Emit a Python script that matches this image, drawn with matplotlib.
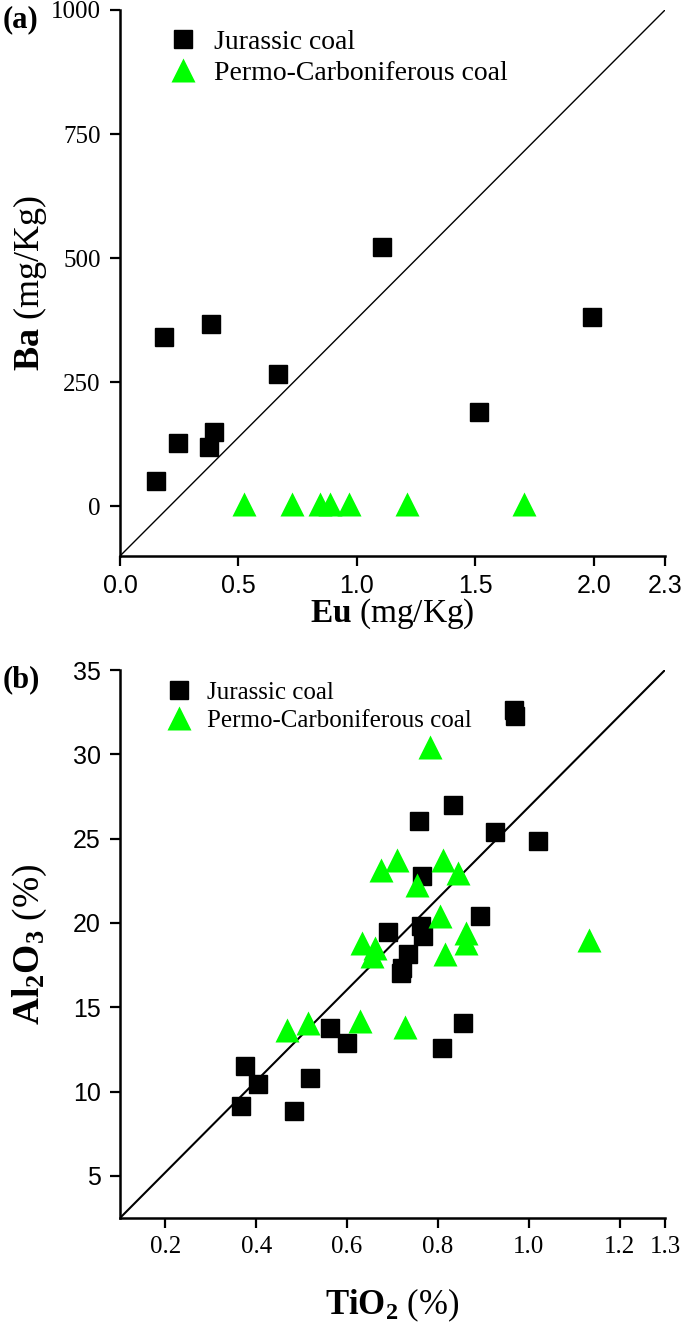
import matplotlib
matplotlib.use("Agg")
import matplotlib.pyplot as plt
import numpy as np

plt.rcParams['mathtext.fontset'] = 'custom'
plt.rcParams['mathtext.rm'] = 'Liberation Serif'
plt.rcParams['mathtext.bf'] = 'Liberation Serif:bold'
plt.rcParams['mathtext.it'] = 'Liberation Serif:italic'
plt.rcParams['font.family'] = ['Liberation Serif', 'DejaVu Sans']

# ---------- Panel (a) data: Eu vs Ba ----------
eu_jur = [0.151, 0.187, 0.243, 0.376, 0.383, 0.396, 0.667, 1.106, 1.516, 1.993]
ba_jur = [52, 342, 127, 119, 367, 149, 267, 523, 191, 382]
eu_perm = [0.522, 0.725, 0.842, 0.887, 0.968, 1.212, 1.705]
ba_perm = [5, 5, 5, 5, 5, 5, 5]
a_xticks = [0.0, 0.5, 1.0, 1.5, 2.0, 2.3]
a_xticklabels = ['0.0', '0.5', '1.0', '1.5', '2.0', '2.3']
a_yticks = [0, 250, 500, 750, 1000]

# ---------- Panel (b) data: TiO2 vs Al2O3 ----------
ti_jur = [0.967, 0.969, 0.833, 0.758, 0.926, 1.020, 0.766, 0.892, 0.691, 0.763,
          0.768, 0.734, 0.722, 0.718, 0.562, 0.599, 0.856, 0.808, 0.376, 0.404,
          0.519, 0.366, 0.483]
al_jur = [32.6, 32.3, 26.97, 26.02, 25.37, 24.84, 22.8, 20.4, 19.45, 19.8,
          19.25, 18.13, 17.34, 17.04, 13.75, 12.9, 14.05, 12.57, 11.52, 10.43,
          10.83, 9.15, 8.85]
ti_perm = [0.782, 0.711, 0.675, 0.811, 0.844, 0.754, 0.804, 0.862, 0.862, 0.632,
           0.661, 0.655, 0.816, 1.132, 0.467, 0.514, 0.629, 0.728]
al_perm = [30.46, 23.75, 23.16, 23.75, 22.96, 22.27, 20.4, 19.41, 18.82, 18.78,
           18.52, 18.03, 18.13, 19.01, 13.66, 14.09, 14.19, 13.85]
b_xticks = [0.2, 0.4, 0.6, 0.8, 1.0, 1.2, 1.3]
b_xticklabels = ['0.2', '0.4', '0.6', '0.8', '1.0', '1.2', '1.3']
b_yticks = [5, 10, 15, 20, 25, 30, 35]

GREEN = '#00FF00'
W, H = 685, 1331
fig = plt.figure(figsize=(W / 100, H / 100), dpi=100)

def box(l, r, t, b):
    return [l / W, 1 - b / H, (r - l) / W, (b - t) / H]

SERIF = 'Liberation Serif'
SANS = 'Liberation Sans'

def style(ax):
    for s in ['top', 'right']:
        ax.spines[s].set_visible(False)
    for s in ['left', 'bottom']:
        ax.spines[s].set_linewidth(1.8)
    ax.tick_params(direction='out', length=7, width=1.6)

# ---------- Panel (a) ----------
axa = fig.add_axes(box(120, 665, 10, 556))
style(axa)
axa.set_xlim(0, 2.3)
axa.set_ylim(-100, 1000)
axa.plot([0, 2.3], [-100, 1000], color='black', lw=1.0, zorder=1)
axa.plot(eu_jur, ba_jur, 's', color='black', ms=12.5, ls='none', label='Jurassic coal', zorder=3)
axa.plot(eu_perm, ba_perm, '^', color=GREEN, ms=17, mec='none', ls='none',
         label='Permo-Carboniferous coal', zorder=3)
axa.set_xticks(a_xticks)
axa.set_xticklabels(a_xticklabels, fontfamily=SANS, fontsize=18)
axa.set_yticks(a_yticks)
axa.set_yticklabels([str(v) for v in a_yticks], fontfamily=SERIF, fontsize=18)
axa.tick_params(axis='x', pad=6)
axa.tick_params(axis='y', pad=7)
axa.set_xlabel(r'$\mathbf{Eu}$ (mg/Kg)', fontsize=24)
axa.xaxis.set_label_coords(0.5, -0.075)
axa.set_ylabel(r'$\mathbf{Ba}$ (mg/Kg)', fontsize=26)
axa.yaxis.set_label_coords(-0.13, 0.5)
axa.legend(loc='upper left', bbox_to_anchor=(0.04, 1.01), frameon=False,
           prop={'family': SERIF, 'size': 20}, handletextpad=0.5,
           labelspacing=0.2, handlelength=1.2)
fig.text(3 / W, 1 - 20 / H, '(a)', fontsize=22, fontweight='bold', fontfamily=SERIF,
         va='center', ha='left')

# ---------- Panel (b) ----------
axb = fig.add_axes(box(120, 665, 670, 1218))
style(axb)
axb.set_xlim(0.1, 1.3)
axb.set_ylim(2.5, 35)
axb.plot([0.1, 1.3], [2.5, 35], color='black', lw=1.5, zorder=1)
axb.plot(ti_jur, al_jur, 's', color='black', ms=12.5, ls='none', label='Jurassic coal', zorder=3)
axb.plot(ti_perm, al_perm, '^', color=GREEN, ms=17, mec='none', ls='none',
         label='Permo-Carboniferous coal', zorder=3)
axb.set_xticks(b_xticks)
axb.set_xticklabels(b_xticklabels, fontfamily=SERIF, fontsize=18)
axb.set_yticks(b_yticks)
axb.set_yticklabels([str(v) for v in b_yticks], fontfamily=SANS, fontsize=18)
axb.tick_params(axis='x', pad=6)
axb.tick_params(axis='y', pad=7)
axb.set_xlabel(r'$\mathbf{TiO_2}$ (%)', fontsize=25)
axb.xaxis.set_label_coords(0.5, -0.125)
axb.set_ylabel(r'$\mathbf{Al_2O_3}$ (%)', fontsize=27)
axb.yaxis.set_label_coords(-0.13, 0.5)
axb.legend(loc='upper left', bbox_to_anchor=(0.04, 1.02), frameon=False,
           prop={'family': SERIF, 'size': 18}, handletextpad=0.5,
           labelspacing=0.2, handlelength=1.2)
fig.text(3 / W, 1 - 680 / H, '(b)', fontsize=22, fontweight='bold', fontfamily=SERIF,
         va='center', ha='left')

fig.savefig('out.png', dpi=100)
